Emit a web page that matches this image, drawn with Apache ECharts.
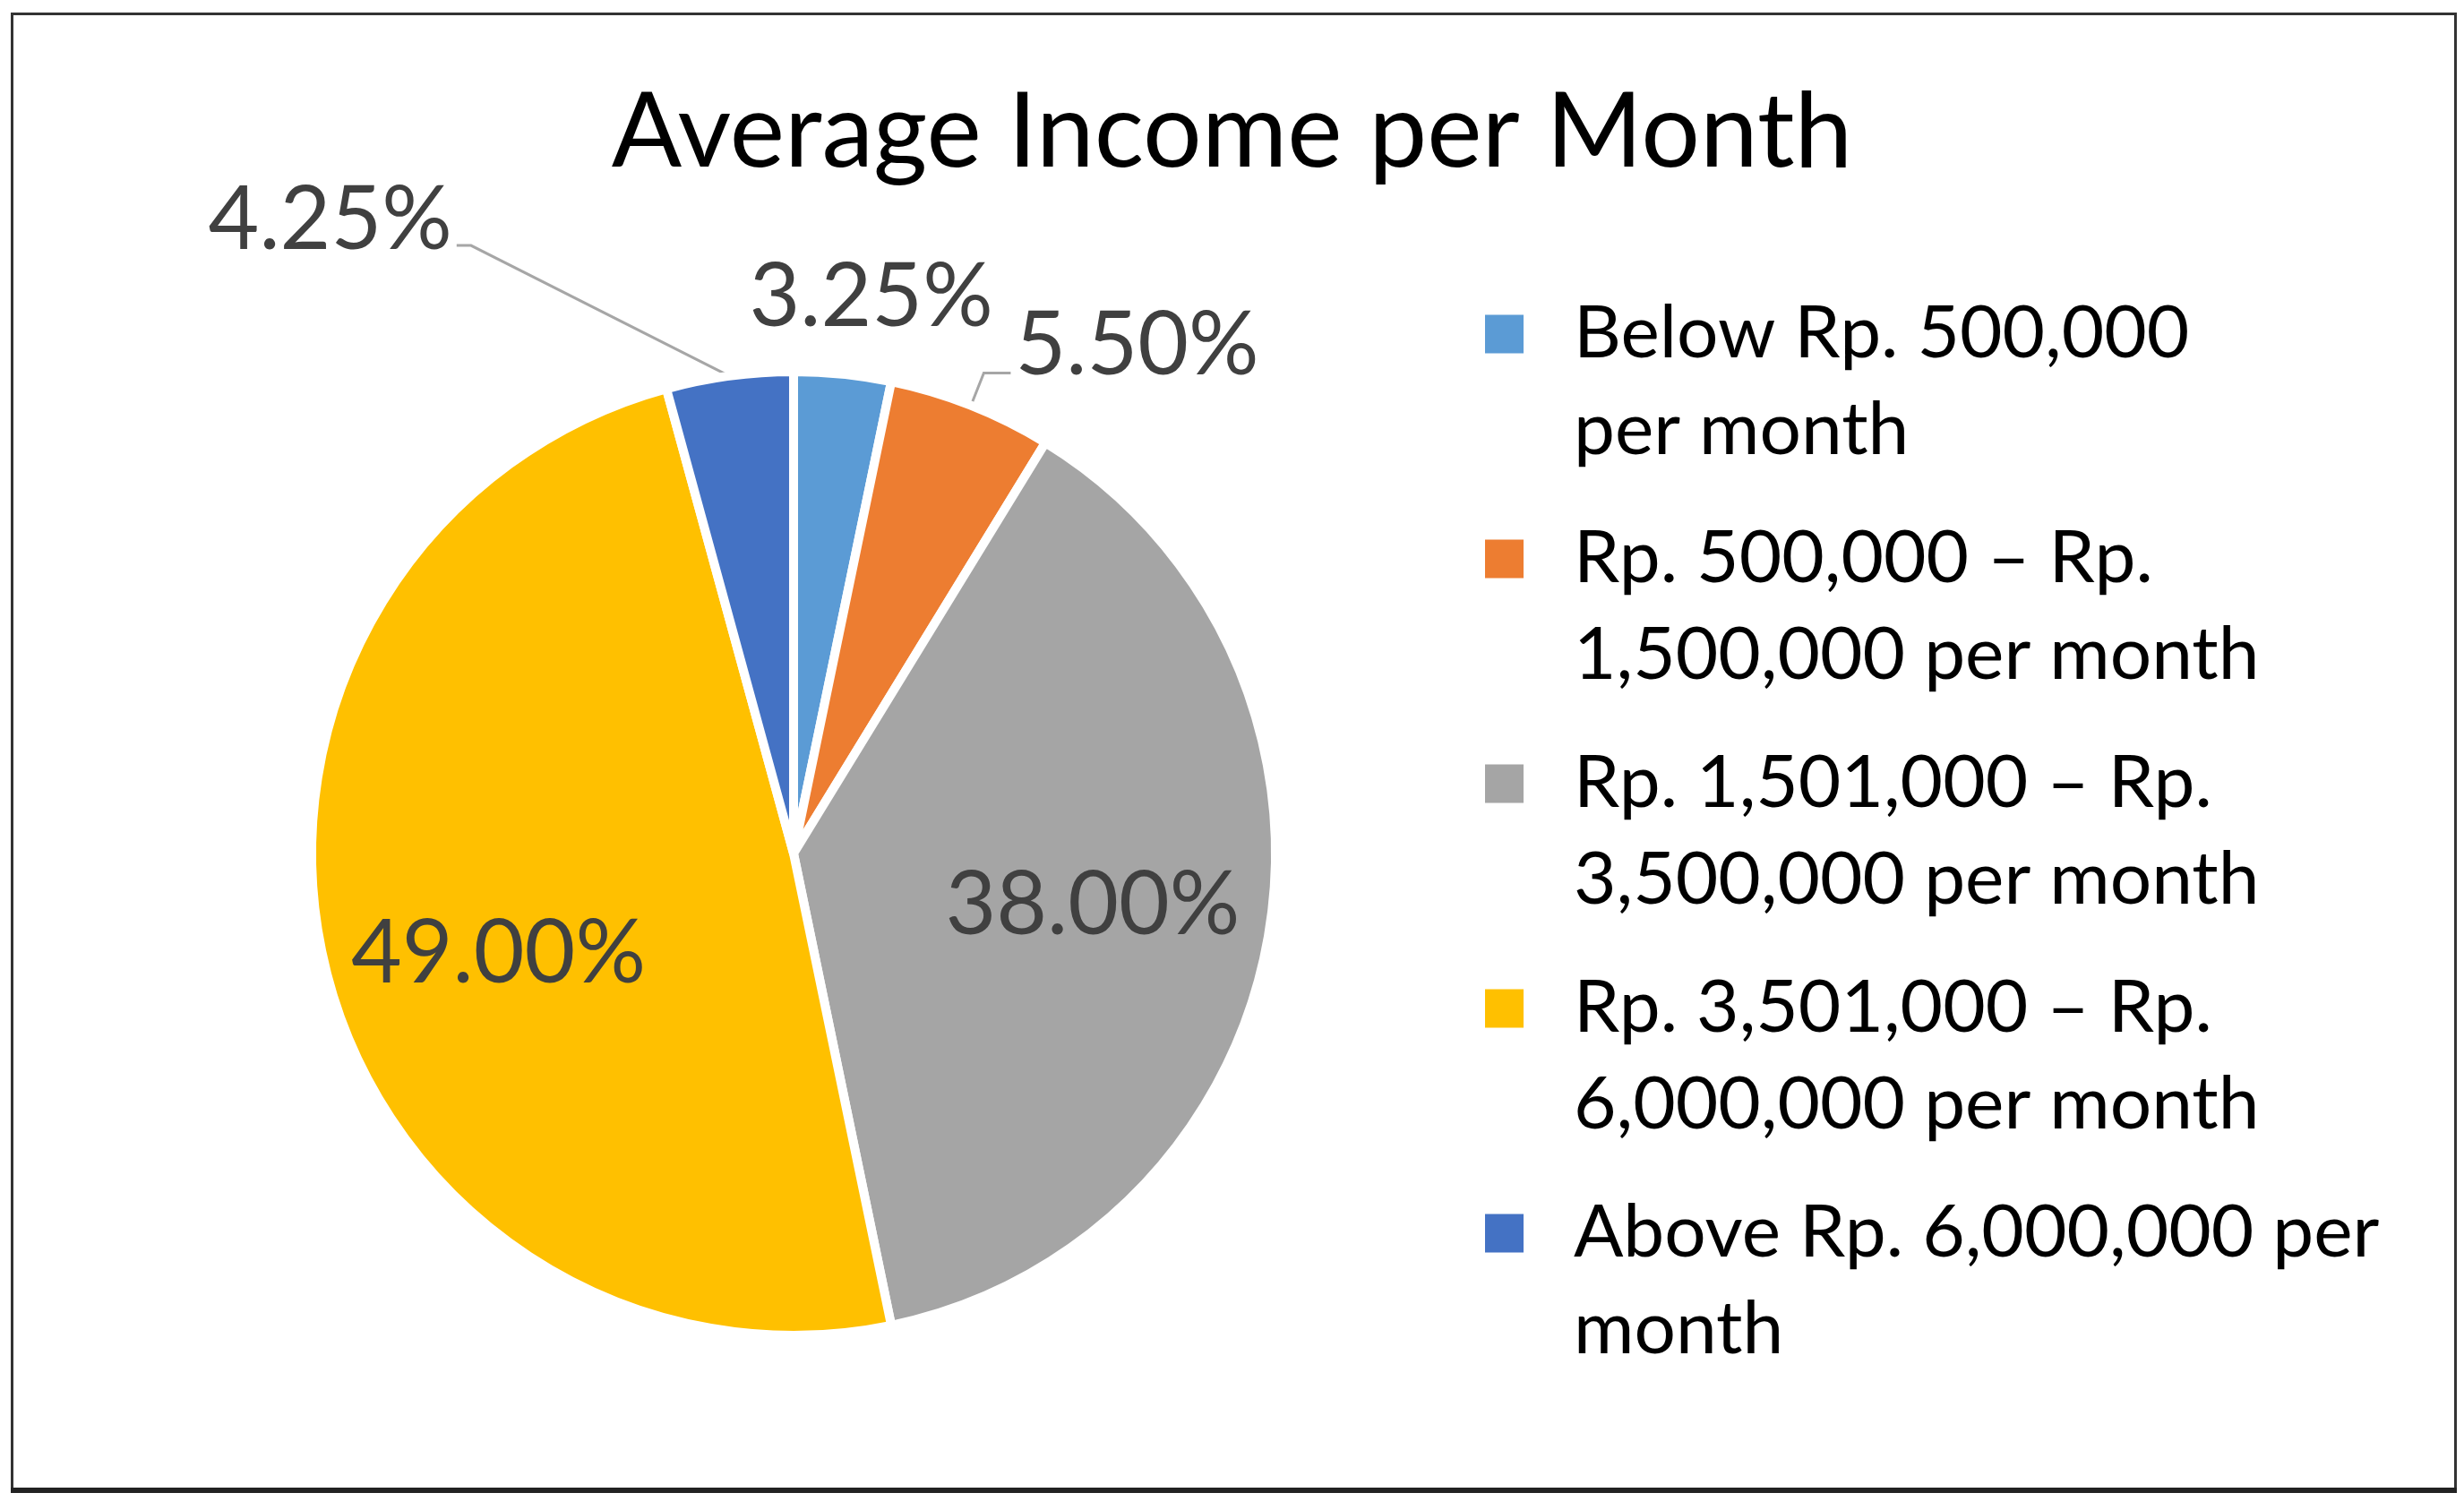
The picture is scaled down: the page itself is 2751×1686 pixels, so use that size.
<!DOCTYPE html>
<html>
<head>
<meta charset="utf-8">
<script src="https://cdn.jsdelivr.net/npm/echarts@6/dist/echarts.min.js"></script>
<style>
html,body{margin:0;padding:0;background:#fff;}
#chart{width:2751px;height:1686px;}
</style>
</head>
<body>
<div id="chart"></div>
<script>
// ---- data ----
const categories = [
  'Below Rp. 500,000 per month',
  'Rp. 500,000 – Rp. 1,500,000 per month',
  'Rp. 1,501,000 – Rp. 3,500,000 per month',
  'Rp. 3,501,000 – Rp. 6,000,000 per month',
  'Above Rp. 6,000,000 per month'
];
const legendLines = [
  'Below Rp. 500,000\nper month',
  'Rp. 500,000 – Rp.\n1,500,000 per month',
  'Rp. 1,501,000 – Rp.\n3,500,000 per month',
  'Rp. 3,501,000 – Rp.\n6,000,000 per month',
  'Above Rp. 6,000,000 per\nmonth'
];
const shares = [3.25, 5.50, 38.00, 49.00, 4.25];
const colors = ['#5B9BD5', '#ED7D31', '#A5A5A5', '#FFC000', '#4472C4'];

// ---- layout / style ----
const CX = 886, CY = 953, R = 538;
const INSIDE_RATIO = 0.63;
const FONT = 'Lato, "Open Sans", sans-serif';
const labelCfg = [
  {label: {position: 'outside'}, labelLine: {show: false, length: 86, length2: 18}},
  {label: {position: 'outside'}, labelLine: {show: true, length: 39, length2: 30}},
  {label: {position: 'inside'}, labelLine: {show: false}},
  {label: {position: 'inside'}, labelLine: {show: false}},
  {label: {position: 'outside'}, labelLine: {show: true, length: 147, length2: 285}}
];
// extra label nudges (style), applied through labelLayout
const labelNudgeY = [0, -30, 0, 33, -28];

const chart = echarts.init(document.getElementById('chart'), null, {renderer: 'canvas'});
chart.setOption({
  animation: false,
  backgroundColor: '#fff',
  title: {
    text: 'Average Income per Month',
    left: 'center',
    top: 91,
    padding: [0, 0, 0, 44],
    textStyle: {fontFamily: FONT, fontSize: 116, fontWeight: 'normal', color: '#000'}
  },
  legend: {
    orient: 'vertical',
    left: 1656,
    top: 211,
    padding: 0,
    itemWidth: 45,
    itemHeight: 45,
    itemGap: -73,
    icon: 'rect',
    selectedMode: false,
    data: categories,
    formatter: function (name) { return ' \n' + legendLines[categories.indexOf(name)]; },
    textStyle: {fontFamily: FONT, fontSize: 82, lineHeight: 108, color: '#000', padding: [0, 0, 0, 50]}
  },
  graphic: [
    {type: 'rect', silent: true, z: 100,
     shape: {x: 13.5, y: 15.5, width: 2728, height: 1648},
     style: {fill: 'none', stroke: '#333', lineWidth: 3}},
    {type: 'rect', silent: true, z: 100,
     shape: {x: 12, y: 1661, width: 2731, height: 6},
     style: {fill: '#222'}}
  ],
  series: [{
    type: 'pie',
    center: [CX, CY],
    radius: R,
    startAngle: 90,
    clockwise: true,
    avoidLabelOverlap: false,
    silent: true,
    itemStyle: {borderColor: '#fff', borderWidth: 10},
    label: {
      show: true,
      formatter: function (p) { return p.value.toFixed(2) + '%'; },
      fontFamily: FONT,
      fontSize: 98,
      color: '#404040'
    },
    labelLine: {lineStyle: {color: '#A6A6A6', width: 3}},
    labelLayout: function (p) {
      const i = p.dataIndex;
      if (i === 0) return {align: 'center'};
      if (i === 2 || i === 3) {
        const r = p.labelRect;
        const lx = r.x + r.width / 2, ly = r.y + r.height / 2;
        const vx = lx - CX, vy = ly - CY;
        const d = Math.hypot(vx, vy);
        const k = (INSIDE_RATIO * R - d) / d;
        return {dx: vx * k, dy: vy * k + labelNudgeY[i]};
      }
      const pts = p.labelLinePoints;
      if (i === 4 && pts) {
        return {dy: labelNudgeY[i], labelLinePoints: [pts[0], [pts[2][0] + 16, pts[2][1]], pts[2]]};
      }
      if (i === 1 && pts) {
        return {dy: labelNudgeY[i], labelLinePoints: pts};
      }
      return {};
    },
    data: shares.map(function (v, i) {
      return {
        name: categories[i],
        value: v,
        itemStyle: {color: colors[i]},
        label: labelCfg[i].label,
        labelLine: labelCfg[i].labelLine
      };
    })
  }]
});
</script>
</body>
</html>
